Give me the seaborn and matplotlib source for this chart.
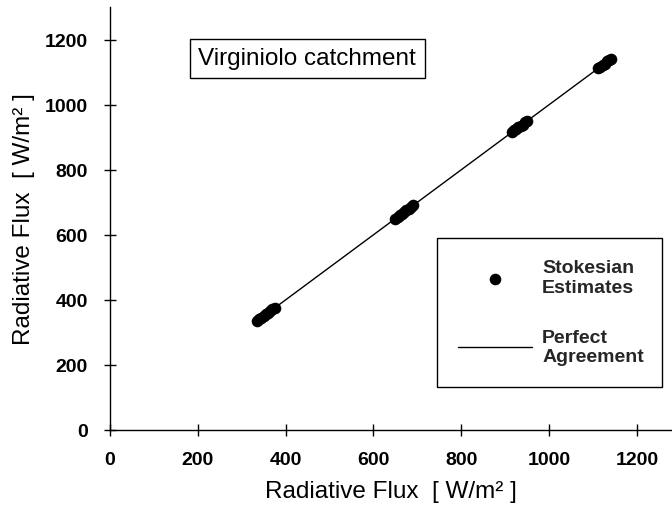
import matplotlib
matplotlib.use("Agg")
import matplotlib.pyplot as plt
import seaborn as sns
import pandas as pd

# Data
measured_x = [335, 340, 345, 350, 355, 360, 365, 370, 375,
              648, 655, 660, 665, 670, 675, 680, 685, 690,
              915, 920, 925, 930, 935, 940, 945, 950,
              1112, 1117, 1122, 1127, 1132, 1137, 1140]
estimated_y = [335, 341, 344, 351, 356, 359, 366, 371, 376,
               649, 654, 661, 664, 671, 676, 679, 686, 691,
               916, 921, 924, 931, 936, 939, 946, 951,
               1113, 1116, 1123, 1126, 1133, 1136, 1141]
line_x = [335, 1130]
line_y = [335, 1130]
x_ticks = [0, 200, 400, 600, 800, 1000, 1200]
y_ticks = [0, 200, 400, 600, 800, 1000, 1200]

sns.set_theme(style="ticks")
plt.rcParams['font.family'] = ['Liberation Sans', 'DejaVu Sans']

fig = plt.figure(figsize=(6.72, 5.10), dpi=100)
ax = fig.add_axes([0.1637, 0.155, 0.8363, 0.829])

df = pd.DataFrame({"x": measured_x, "y": estimated_y})
ldf = pd.DataFrame({"x": line_x, "y": line_y})

sns.lineplot(data=ldf, x="x", y="y", ax=ax, color="black", linewidth=1.0,
             label="Perfect\nAgreement")
sns.scatterplot(data=df, x="x", y="y", ax=ax, color="black", s=70,
                edgecolor="black", linewidth=0, label="Stokesian\nEstimates")

ax.set_xlim(0, 1280)
ax.set_ylim(0, 1300)
ax.set_xticks(x_ticks)
ax.set_yticks(y_ticks)
ax.tick_params(direction="inout", length=8, width=1, colors="black",
               labelsize=14)
ax.tick_params(axis="x", pad=11)
ax.tick_params(axis="y", pad=12)
for lab in ax.get_xticklabels() + ax.get_yticklabels():
    lab.set_fontweight("bold")
for s in ["top", "right"]:
    ax.spines[s].set_visible(False)
for s in ["left", "bottom"]:
    ax.spines[s].set_color("black")
    ax.spines[s].set_linewidth(1.0)

ax.set_xlabel("Radiative Flux  [ W/m² ]", fontsize=17.5, labelpad=9, color="black")
ax.set_ylabel("Radiative Flux  [ W/m² ]", fontsize=17.5, labelpad=7, color="black")

ax.text(0.351, 0.879, "Virginiolo catchment", transform=ax.transAxes,
        fontsize=17.5, ha="center", va="center", color="black",
        bbox=dict(boxstyle="square,pad=0.36", facecolor="white",
                  edgecolor="black", linewidth=1.0))

handles, labels = ax.get_legend_handles_labels()
leg = ax.legend(handles[::-1], labels[::-1], loc="lower left",
                bbox_to_anchor=(0.582, 0.102, 0.400, 0.357),
                mode="expand", borderaxespad=0, frameon=True, fancybox=False,
                edgecolor="black", framealpha=1, handlelength=3.8,
                labelspacing=1.7, borderpad=1.1, handletextpad=0.5,
                prop={"size": 14, "weight": "bold"})
leg.get_frame().set_linewidth(1.0)

fig.savefig("out.png", dpi=100)
